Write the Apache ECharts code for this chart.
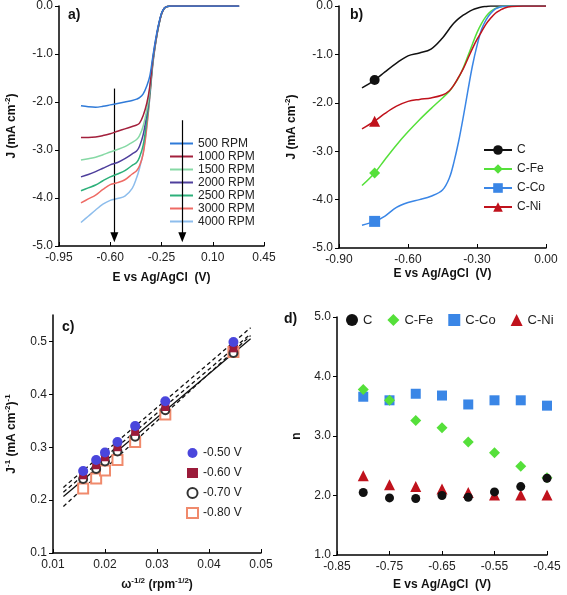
<!DOCTYPE html>
<html><head><meta charset="utf-8">
<script src="https://cdn.jsdelivr.net/npm/echarts@6/dist/echarts.min.js"></script>
<style>html,body{margin:0;padding:0;background:#fff}#c{width:567px;height:595px}</style>
</head><body><div id="c"></div><script>
const FONT = "'Liberation Sans', Arial, sans-serif";

// ---------- Panel a: LSV at different rotation rates ----------
const aE = [-0.80,-0.75,-0.70,-0.65,-0.60,-0.55,-0.50,-0.45,-0.42,-0.40,-0.375,-0.35,-0.33,-0.31,-0.29,-0.27,-0.25,-0.23,-0.21,-0.19,-0.15,-0.10,0.00,0.10,0.20,0.28];
const aNames = ['500 RPM','1000 RPM','1500 RPM','2000 RPM','2500 RPM','3000 RPM','4000 RPM'];
const aJ500  = [-2.08,-2.10,-2.11,-2.09,-2.06,-2.03,-2.00,-1.97,-1.94,-1.91,-1.83,-1.66,-1.46,-1.07,-0.69,-0.38,-0.15,-0.04,-0.01,0,0,0,0,0,0,0];
const aJ1000 = [-2.74,-2.74,-2.73,-2.70,-2.66,-2.61,-2.56,-2.51,-2.48,-2.44,-2.28,-2.02,-1.68,-1.12,-0.72,-0.40,-0.16,-0.04,-0.01,0,0,0,0,0,0,0];
const aJ1500 = [-3.21,-3.18,-3.15,-3.10,-3.04,-2.99,-2.93,-2.84,-2.78,-2.70,-2.50,-2.16,-1.75,-1.15,-0.74,-0.41,-0.16,-0.04,-0.01,0,0,0,0,0,0,0];
const aJ2000 = [-3.56,-3.51,-3.45,-3.38,-3.31,-3.26,-3.18,-3.08,-3.02,-2.92,-2.68,-2.24,-1.78,-1.17,-0.75,-0.41,-0.16,-0.04,-0.01,0,0,0,0,0,0,0];
const aJ2500 = [-3.85,-3.79,-3.73,-3.64,-3.56,-3.50,-3.43,-3.32,-3.26,-3.15,-2.90,-2.38,-1.85,-1.20,-0.76,-0.42,-0.17,-0.05,-0.01,0,0,0,0,0,0,0];
const aJ3000 = [-4.10,-4.02,-3.94,-3.82,-3.72,-3.68,-3.62,-3.50,-3.43,-3.33,-3.08,-2.52,-1.89,-1.22,-0.77,-0.42,-0.17,-0.05,-0.01,0,0,0,0,0,0,0];
const aJ4000 = [-4.51,-4.38,-4.25,-4.13,-4.05,-4.01,-3.96,-3.80,-3.58,-3.38,-3.05,-2.48,-1.92,-1.25,-0.78,-0.43,-0.17,-0.05,-0.01,0,0,0,0,0,0,0];
const aColors = ['#2f7ad8','#a3203c','#86d9a5','#4e3f9c','#2db07a','#ee6a64','#8dbdec'];
const aXTicks = [-0.95,-0.60,-0.25,0.10,0.45];
const aYTicks = [-5,-4,-3,-2,-1,0];
// arrows: [E, J start, J end]
const arrow1 = [-0.572, -1.72, -4.82];
const arrow2 = [-0.108, -2.38, -4.82];

// ---------- Panel b: LSV of catalysts ----------
const bE   = [-0.80,-0.745,-0.70,-0.65,-0.60,-0.55,-0.50,-0.45,-0.42,-0.40,-0.38,-0.36,-0.34,-0.32,-0.30,-0.28,-0.26,-0.24,-0.22,-0.20,-0.18,-0.15,-0.10,-0.05,0.00];
const bNames = ['C','C-Fe','C-Co','C-Ni'];
const bC   = [-1.69,-1.53,-1.36,-1.18,-1.03,-0.97,-0.89,-0.66,-0.47,-0.35,-0.26,-0.19,-0.13,-0.08,-0.045,-0.02,-0.01,0,0,0,0,0,0,0,0];
const bFe  = [-3.71,-3.45,-3.17,-2.87,-2.60,-2.35,-2.12,-1.90,-1.76,-1.63,-1.48,-1.28,-1.04,-0.79,-0.55,-0.36,-0.21,-0.11,-0.05,-0.02,-0.005,0,0,0,0];
const bCo  = [-4.53,-4.45,-4.34,-4.16,-4.06,-4.00,-3.93,-3.80,-3.55,-3.22,-2.80,-2.30,-1.76,-1.24,-0.82,-0.48,-0.28,-0.15,-0.06,-0.02,-0.005,0,0,0,0];
const bNi  = [-2.54,-2.38,-2.22,-2.07,-1.97,-1.93,-1.90,-1.84,-1.75,-1.63,-1.47,-1.30,-1.09,-0.88,-0.69,-0.53,-0.37,-0.25,-0.15,-0.09,-0.04,-0.01,0,0,0];
const bMarkerIndex = 1;
const bXTicks = [-0.90,-0.60,-0.30,0.00];
const bYTicks = [-5,-4,-3,-2,-1,0];

// ---------- Panel c: Koutecky-Levich ----------
const cNames = ['-0.50 V','-0.60 V','-0.70 V','-0.80 V'];
const cW   = [0.0158,0.0183,0.0200,0.0224,0.0258,0.0316,0.0447];
const c050 = [0.255,0.276,0.290,0.310,0.340,0.387,0.499];
const c060 = [0.247,0.266,0.281,0.300,0.329,0.376,0.487];
const c070 = [0.240,0.259,0.273,0.292,0.320,0.370,0.478];
const c080 = [0.222,0.241,0.256,0.276,0.310,0.362,0.480];
const cFitX   = [0.012,0.048];
const cFit050 = [0.224,0.526];
const cFit060 = [0.215,0.514];
const cFit070 = [0.207,0.505];
const cFit080 = [0.188,0.511];
const cXTicks = [0.01,0.02,0.03,0.04,0.05];
const cYTicks = [0.1,0.2,0.3,0.4,0.5];

// ---------- Panel d: electron transfer number ----------
const dNames = ['C','C-Fe','C-Co','C-Ni'];
const dE  = [-0.80,-0.75,-0.70,-0.65,-0.60,-0.55,-0.50,-0.45];
const dC  = [2.05,1.96,1.95,2.00,1.97,2.06,2.15,2.29];
const dFe = [3.78,3.60,3.26,3.14,2.90,2.72,2.49,2.30];
const dCo = [3.66,3.60,3.71,3.68,3.53,3.60,3.60,3.51];
const dNi = [2.33,2.18,2.15,2.11,2.05,2.01,2.01,2.01];
const dXTicks = [-0.85,-0.75,-0.65,-0.55,-0.45];
const dYTicks = [1,2,3,4,5];

const catColors = {C:'#111111','C-Fe':'#55e03a','C-Co':'#3a86e6','C-Ni':'#c0121c'};
const catSymbols = {C:'circle','C-Fe':'diamond','C-Co':'rect','C-Ni':'triangle'};
const ZW = '\u200b'; // keeps panel-d legend entries distinct from panel-b ones

const zip = (xs, ys) => xs.map((x, i) => [x, ys[i]]);

const labelStyle = {fontSize:12, color:'#222', fontFamily:FONT};
const nameStyle = {fontSize:12, fontWeight:'bold', color:'#111', fontFamily:FONT,
  rich:{sup:{fontSize:8, fontWeight:'bold', verticalAlign:'top', lineHeight:15, fontFamily:FONT, color:'#111'},
        n:{fontSize:12, fontWeight:'bold', lineHeight:15, fontFamily:FONT, color:'#111'}}};

function xAx(gi, min, max, ticks, dec, name, gap) {
  return {type:'value', gridIndex:gi, min, max, splitLine:{show:false},
    axisLine:{show:true, onZero:false, lineStyle:{color:'#000', width:1.5}},
    axisTick:{show:true, inside:true, length:4, customValues:ticks, lineStyle:{color:'#000', width:1}},
    axisLabel:Object.assign({customValues:ticks, formatter:v=>v.toFixed(dec), margin:6}, labelStyle),
    name, nameLocation:'middle', nameGap:gap, nameTextStyle:nameStyle};
}
function yAx(gi, min, max, ticks, dec, name, gap) {
  return {type:'value', gridIndex:gi, min, max, splitLine:{show:false},
    axisLine:{show:true, onZero:false, lineStyle:{color:'#000', width:1.5}},
    axisTick:{show:true, inside:false, length:4, customValues:ticks, lineStyle:{color:'#000', width:1}},
    axisLabel:Object.assign({customValues:ticks, formatter:v=>v.toFixed(dec), margin:6}, labelStyle),
    name, nameLocation:'middle', nameGap:gap, nameTextStyle:nameStyle};
}

const series = [];
// panel a
const aData = [aJ500,aJ1000,aJ1500,aJ2000,aJ2500,aJ3000,aJ4000];
aData.forEach((ys, i) => {
  const s = {type:'line', name:aNames[i], xAxisIndex:0, yAxisIndex:0, data:zip(aE, ys),
    smooth:0.35, symbol:'none', lineStyle:{color:aColors[i], width:1.5}, itemStyle:{color:aColors[i]}, z:10-i};
  if (i === 0) {
    s.markLine = {silent:true, symbol:['none','triangle'], symbolSize:[8,10], animation:false,
      lineStyle:{color:'#000', type:'solid', width:1.2}, label:{show:false},
      data:[[{coord:[arrow1[0],arrow1[1]]},{coord:[arrow1[0],arrow1[2]]}],
            [{coord:[arrow2[0],arrow2[1]]},{coord:[arrow2[0],arrow2[2]]}]]};
    s.z = 20;
  }
  series.push(s);
});
// panel b
[bC,bFe,bCo,bNi].forEach((ys, i) => {
  const nm = bNames[i];
  series.push({type:'line', name:nm, xAxisIndex:1, yAxisIndex:1, smooth:0.35,
    symbol:catSymbols[nm], symbolSize: nm === 'C' ? 10 : 11, showSymbol:true,
    data:bE.map((x, k) => k === bMarkerIndex ? {value:[x, ys[k]]} : {value:[x, ys[k]], symbol:'none'}),
    lineStyle:{color:catColors[nm], width:1.5}, itemStyle:{color:catColors[nm]}});
});
// panel c fit lines
[cFit050,cFit060,cFit070,cFit080].forEach((ys, i) => {
  series.push({type:'line', name:'fit'+i, xAxisIndex:2, yAxisIndex:2, data:zip(cFitX, ys), symbol:'none',
    lineStyle:{color:'#111', width:1.3, type: i === 2 ? 'solid' : [4,3]}, z:1, silent:true});
});
// panel c points (draw -0.80 first so -0.50 sits on top)
const cSpec = [
  {name:cNames[3], ys:c080, symbol:'emptyRect', size:10, color:'#f08a6c'},
  {name:cNames[2], ys:c070, symbol:'emptyCircle', size:8, color:'#333333'},
  {name:cNames[1], ys:c060, symbol:'rect', size:8, color:'#9b1b3a'},
  {name:cNames[0], ys:c050, symbol:'circle', size:10, color:'#4a46dc'}
];
cSpec.forEach(sp => series.push({type:'scatter', name:sp.name, xAxisIndex:2, yAxisIndex:2,
  data:zip(cW, sp.ys), symbol:sp.symbol, symbolSize:sp.size,
  itemStyle:{color:sp.color, borderWidth:1, opacity:1}, z:5}));
// panel d
const dSpec = [
  {nm:'C-Ni', ys:dNi, size:11}, {nm:'C-Co', ys:dCo, size:10}, {nm:'C-Fe', ys:dFe, size:11}, {nm:'C', ys:dC, size:9}
];
dSpec.forEach(sp => series.push({type:'scatter', name:sp.nm + ZW, xAxisIndex:3, yAxisIndex:3,
  data:zip(dE, sp.ys), symbol:catSymbols[sp.nm], symbolSize:sp.size,
  itemStyle:{color:catColors[sp.nm], opacity:1}}));

const legendText = {fontSize:12, color:'#222', fontFamily:FONT};
const option = {
  animation:false,
  backgroundColor:'#fff',
  grid:[
    {left:59, top:6, width:205, height:240, outerBoundsMode:'none'},
    {left:339, top:6, width:207, height:242, outerBoundsMode:'none'},
    {left:53, top:315, width:208, height:238, outerBoundsMode:'none'},
    {left:337, top:317, width:210, height:238, outerBoundsMode:'none'}
  ],
  xAxis:[
    xAx(0, -0.95, 0.45, aXTicks, 2, 'E vs Ag/AgCl  (V)', 26),
    xAx(1, -0.90, 0.00, bXTicks, 2, 'E vs Ag/AgCl  (V)', 20),
    xAx(2, 0.01, 0.05, cXTicks, 2, '{n|ω}{sup|-1/2}{n| (rpm}{sup|-1/2}{n|)}', 24),
    xAx(3, -0.85, -0.45, dXTicks, 2, 'E vs Ag/AgCl  (V)', 24)
  ],
  yAxis:[
    yAx(0, -5, 0, aYTicks, 1, '{n|J (mA cm}{sup|-2}{n|)}', 40),
    yAx(1, -5, 0, bYTicks, 1, '{n|J (mA cm}{sup|-2}{n|)}', 40),
    yAx(2, 0.1, 0.55, cYTicks, 1, '{n|J}{sup|-1}{n| (mA cm}{sup|-2}{n|)}{sup|-1}', 34),
    yAx(3, 1, 5, dYTicks, 1, 'n', 34)
  ],
  legend:[
    {data:aNames.map(n => ({name:n, icon:'rect'})), orient:'vertical', left:170, top:137, padding:0,
      itemWidth:23, itemHeight:2, itemGap:0,
      textStyle:Object.assign({lineHeight:13}, legendText), selectedMode:false},
    {data:bNames, orient:'vertical', left:483, top:143, padding:0, itemWidth:28, itemHeight:12, itemGap:5,
      textStyle:Object.assign({lineHeight:14}, legendText), selectedMode:false},
    {data:cNames, orient:'vertical', left:186, top:446, padding:0, itemWidth:11, itemHeight:10, itemGap:6,
      textStyle:Object.assign({lineHeight:14}, legendText), selectedMode:false},
    {data:dNames.map(n => n + ZW), orient:'horizontal', left:346, top:313, width:220, padding:0,
      itemWidth:12, itemHeight:12, itemGap:15,
      textStyle:Object.assign({lineHeight:14}, legendText, {fontSize:13}), selectedMode:false}
  ],
  graphic:[
    {type:'text', left:68, top:8, style:{text:'a)', font:'bold 14px ' + FONT, fill:'#111'}},
    {type:'text', left:350, top:8, style:{text:'b)', font:'bold 14px ' + FONT, fill:'#111'}},
    {type:'text', left:62, top:320, style:{text:'c)', font:'bold 14px ' + FONT, fill:'#111'}},
    {type:'text', left:284, top:312, style:{text:'d)', font:'bold 14px ' + FONT, fill:'#111'}}
  ],
  series
};
const chart = echarts.init(document.getElementById('c'), null, {renderer:'canvas'});
chart.setOption(option);
</script></body></html>
